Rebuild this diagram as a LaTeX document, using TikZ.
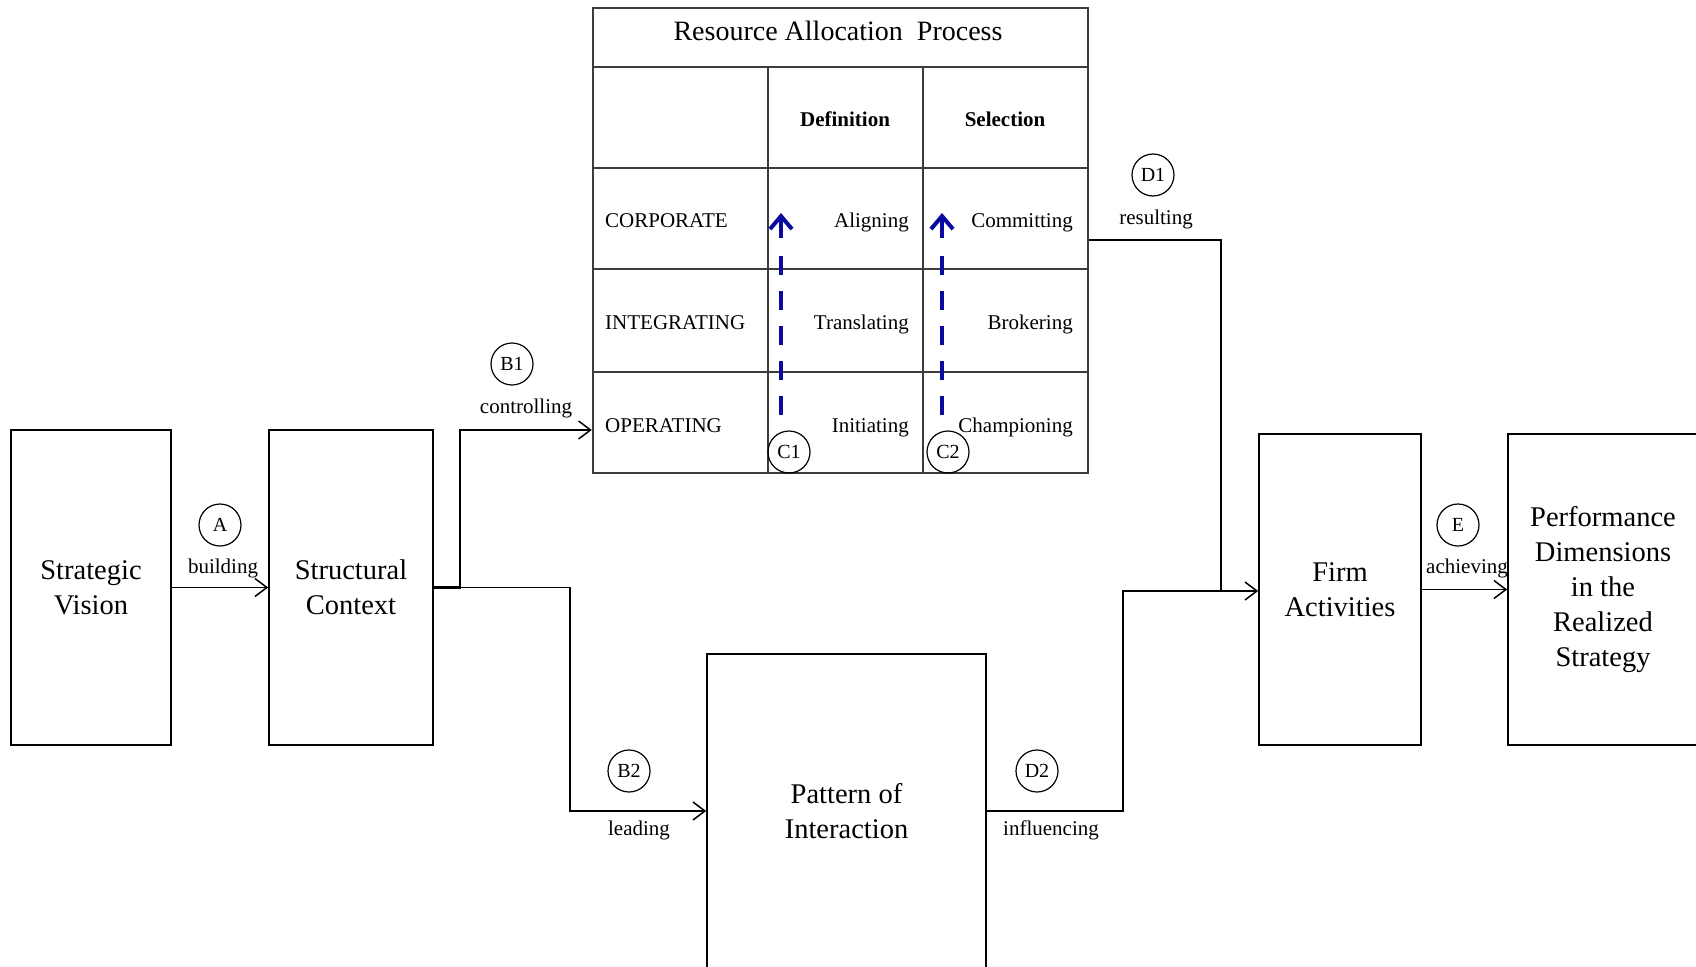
\documentclass[tikz,border=0pt]{standalone}
\usepackage{fontspec}
\setmainfont{Liberation Serif}
\usetikzlibrary{arrows.meta}
\definecolor{gridgray}{RGB}{60,60,60}
\definecolor{dblue}{RGB}{10,10,160}
\begin{document}
\begin{tikzpicture}[x=1pt,y=-1pt,
  box/.style={draw=black,line width=1.6pt,inner sep=0pt,align=center,font=\fontsize{28.5}{35}\selectfont},
  conn/.style={line width=1.5pt,-{Straight Barb[length=12pt,width=18pt,line width=1.5pt]}},
  plainline/.style={line width=1.5pt},
  lettercirc/.style={draw,circle,minimum size=42pt,inner sep=0pt,line width=1.2pt,font=\fontsize{20}{20}\selectfont},
  lbl/.style={font=\fontsize{21}{22}\selectfont,inner sep=0pt},
  cell/.style={font=\fontsize{21}{22}\selectfont,inner sep=0pt},
  gridline/.style={draw=gridgray,line width=2.4pt},
  upflow/.style={draw=dblue,line width=4pt,dash pattern=on 19pt off 16pt},
  uptip/.style={draw=dblue,line width=4pt,-{Straight Barb[length=13pt,width=22pt,line width=4pt]}}
]
\useasboundingbox (0,0) rectangle (1696,966);
\clip (0,0) rectangle (1696,966);

% main boxes
\node[box,minimum width=160pt,minimum height=315pt] (sv) at (91,587.5) {Strategic\\Vision};
\node[box,minimum width=164pt,minimum height=315pt] (sc) at (351,587.5) {Structural\\Context};
\node[box,minimum width=279pt,minimum height=314pt] (pi) at (846.5,811) {Pattern of\\Interaction};
\node[box,minimum width=162pt,minimum height=311pt] (fa) at (1340,589.5) {Firm\\Activities};
\node[box,minimum width=190pt,minimum height=311pt] (pd) at (1603,589.5) {Performance\\Dimensions\\in the\\Realized\\Strategy};

% resource allocation table
\node[draw=gridgray,line width=2.4pt,minimum width=495pt,minimum height=465pt,inner sep=0pt] (rap) at (840.5,240.5) {};
\draw[gridline] (593,67) -- (1088,67);
\draw[gridline] (593,168) -- (1088,168);
\draw[gridline] (593,269) -- (1088,269);
\draw[gridline] (593,372) -- (1088,372);
\draw[gridline] (768,67) -- (768,473);
\draw[gridline] (923,67) -- (923,473);

\node[cell,anchor=base] (title) at (838,41) {\fontsize{28}{29}\selectfont Resource Allocation\ \ Process};
\node[cell,anchor=base] (hdef) at (845,126) {\bfseries Definition};
\node[cell,anchor=base] (hsel) at (1005,126) {\bfseries Selection};

\node[cell,anchor=base west] (rcorp) at (605,227) {CORPORATE};
\node[cell,anchor=base west] (rint) at (605,329) {INTEGRATING};
\node[cell,anchor=base west] (rop) at (605,432) {OPERATING};

\node[cell,anchor=base east] (al) at (909,227) {Aligning};
\node[cell,anchor=base east] (tr) at (909,329) {Translating};
\node[cell,anchor=base east] (in) at (909,432) {Initiating};
\node[cell,anchor=base east] (co) at (1073,227) {Committing};
\node[cell,anchor=base east] (br) at (1073,329) {Brokering};
\node[cell,anchor=base east] (ch) at (1073,432) {Championing};

% blue dashed upward arrows
\coordinate (c1bot) at (781,415);
\coordinate (c1mid) at (781,256);
\coordinate (c1head) at (781,238);
\coordinate (c1top) at (781,213);
\coordinate (c2bot) at (942,415);
\coordinate (c2mid) at (942,256);
\coordinate (c2head) at (942,238);
\coordinate (c2top) at (942,213);
\draw[upflow] (c1bot) -- (c1mid);
\draw[uptip] (c1head) -- (c1top);
\draw[upflow] (c2bot) -- (c2mid);
\draw[uptip] (c2head) -- (c2top);

\node[lettercirc] (cC1) at (789,452) {C1};
\node[lettercirc] (cC2) at (948,452) {C2};

% connectors
\draw[conn] (sv) -- (sc);
\coordinate (b1) at (460,430);
\draw[line width=3.5pt] (sc.east) -- ++(27,0);
\draw[conn] (sc.east) -| (b1) -- (b1 -| rap.west);
\coordinate (b2) at (570,0);
\draw[conn] (sc.east) -| (b2 |- pi.west) -- (pi.west);
\coordinate (d2) at (1123,591);
\draw[conn] (pi.east) -| (d2) -- (d2 -| fa.west);
\coordinate (d1) at (1221,240);
\draw[plainline] (rap.east |- d1) -- (d1) -- (d1 |- d2);
\draw[conn] (fa.east) -- (pd.west);

% circled letters and labels
\node[lettercirc] (cA) at (220,525) {A};
\node[lbl,anchor=base] (lA) at (223,573) {building};
\node[lettercirc] (cB1) at (512,364) {B1};
\node[lbl,anchor=base] (lB1) at (526,413) {controlling};
\node[lettercirc] (cB2) at (629,771) {B2};
\node[lbl,anchor=base] (lB2) at (639,835) {leading};
\node[lettercirc] (cD2) at (1037,771) {D2};
\node[lbl,anchor=base] (lD2) at (1051,835) {influencing};
\node[lettercirc] (cD1) at (1153,175) {D1};
\node[lbl,anchor=base] (lD1) at (1156,224) {resulting};
\node[lettercirc] (cE) at (1458,525) {E};
\node[lbl,anchor=base] (lE) at (1467,573) {achieving};
\end{tikzpicture}
\end{document}
